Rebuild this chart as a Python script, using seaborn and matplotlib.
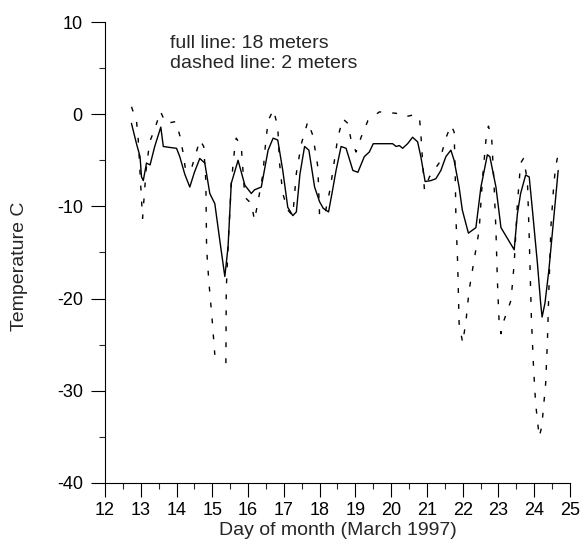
import numpy as np
import pandas as pd
import matplotlib
matplotlib.use("Agg")
import matplotlib.pyplot as plt
import seaborn as sns

# Temperature at 18 m (full line)
day_18m = [12.74, 12.88, 12.98, 13.02, 13.07, 13.16, 13.26, 13.39, 13.56, 13.63,
           13.80, 14.00, 14.09, 14.23, 14.37, 14.50, 14.65, 14.79, 14.93, 15.07,
           15.21, 15.35, 15.44, 15.53, 15.72, 15.91, 16.09, 16.18, 16.37, 16.56,
           16.70, 16.83, 16.97, 17.11, 17.25, 17.35, 17.45, 17.58, 17.70, 17.86,
           18.00, 18.10, 18.25, 18.35, 18.46, 18.60, 18.74, 18.93, 19.07, 19.25,
           19.39, 19.50, 20.04, 20.14, 20.23, 20.32, 20.46, 20.60, 20.74, 20.83,
           20.95, 21.11, 21.25, 21.39, 21.53, 21.67, 21.76, 21.90, 21.99, 22.16,
           22.37, 22.51, 22.69, 22.76, 22.93, 23.07, 23.44, 23.53, 23.62, 23.76,
           23.86, 23.95, 24.09, 24.18, 24.22, 24.30, 24.41, 24.55, 24.67]
temp_18m = [-1.0, -3.2, -4.6, -6.8, -7.2, -5.3, -5.5, -3.5, -1.4, -3.5,
            -3.6, -3.7, -4.6, -6.5, -7.9, -6.3, -4.8, -5.3, -8.6, -9.7,
            -13.7, -17.6, -14.4, -7.5, -5.0, -7.7, -8.6, -8.2, -7.9, -3.9,
            -2.6, -2.8, -6.1, -10.1, -11.0, -10.6, -6.5, -3.5, -3.9, -7.9,
            -9.5, -10.2, -10.6, -8.5, -6.1, -3.5, -3.7, -6.1, -6.3, -4.6,
            -4.1, -3.2, -3.2, -3.5, -3.4, -3.7, -3.2, -2.5, -3.0, -4.6,
            -7.3, -7.2, -7.0, -6.1, -4.6, -3.9, -5.0, -7.9, -10.4, -12.9,
            -12.3, -7.9, -4.4, -4.6, -7.9, -12.3, -14.7, -10.8, -8.6, -6.6,
            -6.8, -10.4, -16.2, -20.5, -22.0, -20.5, -16.9, -11.1, -6.1]

# Temperature at 2 m (dashed line); the record has a gap around 15.2
day_2m_a = [12.74, 12.88, 12.93, 12.98, 13.05, 13.15, 13.25, 13.40, 13.55, 13.70,
            13.98, 14.09, 14.18, 14.25, 14.40, 14.54, 14.65, 14.76, 14.82, 14.84,
            14.90, 15.00, 15.07]
temp_2m_a = [0.8, -0.7, -2.8, -6.4, -11.3, -6.0, -3.0, -1.5, 0.3, -1.0,
             -0.8, -2.3, -4.1, -6.0, -6.1, -4.3, -2.8, -3.5, -7.3, -14.5,
             -18.0, -22.5, -26.1]
day_2m_b = [15.38, 15.39, 15.44, 15.53, 15.63, 15.67, 15.81, 15.91, 16.09, 16.18,
            16.30, 16.42, 16.46, 16.56, 16.71, 16.83, 16.88, 16.97, 17.11, 17.25,
            17.35, 17.49, 17.67, 17.81, 17.95, 18.00, 18.15, 18.30, 18.51, 18.65,
            18.79, 18.88, 19.02, 19.16, 19.35, 19.67, 20.14, 20.37, 20.60, 20.79,
            20.83, 20.93, 21.07, 21.34, 21.53, 21.67, 21.76, 21.79, 21.81, 21.86,
            21.90, 22.00, 22.09, 22.18, 22.32, 22.46, 22.55, 22.65, 22.72, 22.81,
            22.88, 22.93, 22.97, 23.02, 23.07, 23.16, 23.35, 23.44, 23.53, 23.62,
            23.70, 23.81, 23.86, 23.92, 23.98, 24.04, 24.14, 24.21, 24.32, 24.37,
            24.41, 24.47, 24.55, 24.60, 24.67]
temp_2m_b = [-27.0, -19.0, -14.4, -7.5, -3.5, -2.6, -3.5, -9.0, -9.7, -11.5,
             -9.0, -6.4, -4.3, -0.7, 0.5, -1.4, -5.3, -8.6, -10.4, -11.0,
             -6.4, -3.2, -0.8, -2.3, -5.7, -11.1, -10.8, -8.0, -2.5, -0.5,
             -1.0, -2.8, -4.1, -2.5, -0.7, 0.25, 0.1, -0.3, -0.1, -0.3,
             -2.1, -8.2, -6.8, -5.3, -2.6, -1.2, -1.9, -6.1, -11.1, -16.2,
             -22.7, -24.8, -22.5, -19.1, -15.8, -12.6, -7.2, -2.8, -1.3, -2.5,
             -7.9, -12.6, -18.0, -22.7, -23.8, -22.3, -20.2, -16.2, -9.7, -5.3,
             -4.8, -7.2, -13.3, -22.0, -27.4, -31.4, -35.0, -33.9, -29.2, -24.5,
             -19.0, -12.0, -7.5, -5.7, -4.3]

x_ticks = list(range(12, 26))
y_ticks = [-40, -30, -20, -10, 0, 10]

df18 = pd.DataFrame({"day": day_18m, "temp": temp_18m})
df2 = pd.concat([
    pd.DataFrame({"day": day_2m_a, "temp": temp_2m_a, "seg": 0}),
    pd.DataFrame({"day": day_2m_b, "temp": temp_2m_b, "seg": 1}),
], ignore_index=True)

sns.set_style("ticks")
plt.rcParams["font.family"] = ["Liberation Sans", "DejaVu Sans"]
plt.rcParams["axes.unicode_minus"] = False

fig = plt.figure(figsize=(5.84, 5.46), dpi=100)
ax = fig.add_axes([0.1798, 0.1154, 0.7962, 0.8443])

sns.lineplot(data=df2, x="day", y="temp", units="seg", estimator=None, sort=False,
             color="black", linewidth=1.0, linestyle=(0, (3.5, 8)), ax=ax)
sns.lineplot(data=df18, x="day", y="temp", estimator=None, sort=False,
             color="black", linewidth=1.0, ax=ax)

ax.set_xlim(12, 25)
ax.set_ylim(-40, 10)
ax.set_xticks(x_ticks)
ax.set_xticklabels([str(t) for t in x_ticks])
ax.set_xticks(np.arange(12.5, 25, 1.0), minor=True)
ax.set_yticks(y_ticks)
ax.set_yticklabels([str(t) for t in y_ticks])
ax.set_yticks(np.arange(-35, 10, 10), minor=True)
ax.tick_params(which="major", direction="out", length=10, width=0.8,
               labelsize=13, colors="black")
ax.tick_params(axis="y", which="major", pad=6)
ax.tick_params(axis="x", which="major", pad=4)
ax.tick_params(which="minor", direction="out", length=4, width=0.8)
for side in ("top", "right"):
    ax.spines[side].set_visible(False)
for side in ("left", "bottom"):
    ax.spines[side].set_linewidth(0.8)
    ax.spines[side].set_color("black")

ax.set_xlabel("Day of month (March 1997)", fontsize=14)
ax.set_ylabel("Temperature C", fontsize=14)
ax.xaxis.set_label_coords(0.5, -0.085)
ax.yaxis.set_label_coords(-0.165, 0.47)

ax.text(13.81, 7.67, "full line: 18 meters", fontsize=14, va="center", ha="left")
ax.text(13.81, 5.5, "dashed line: 2 meters", fontsize=14, va="center", ha="left")

fig.savefig("out.png", dpi=100)
